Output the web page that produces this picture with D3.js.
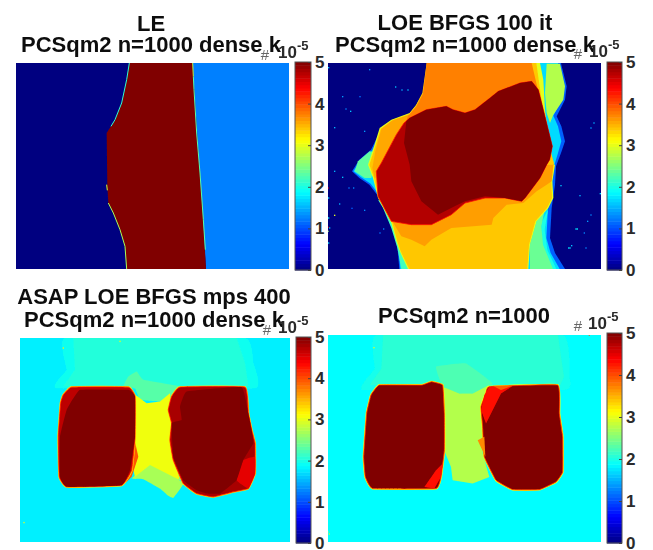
<!DOCTYPE html>
<html>
<head>
<meta charset="utf-8">
<script src="https://cdn.jsdelivr.net/npm/d3@7/dist/d3.min.js"></script>
<style>
html,body{margin:0;padding:0;background:#fff}
text{font-family:"Liberation Sans",Arial,sans-serif}
</style>
</head>
<body>
<svg id="chart" width="653" height="550"></svg>
<script>
// ---------- data: values in units of 1e-5, region outlines on each image's own grid ----------
const colorbarTicks = [0, 1, 2, 3, 4, 5];
const colorbarLevels = d3.range(64).map(i => (i + 0.5) * 5 / 64);
const titles = [
  ["LE", "PCSqm2 n=1000 dense k"],
  ["LOE BFGS 100 it", "PCSqm2 n=1000 dense k"],
  ["ASAP LOE BFGS mps 400", "PCSqm2 n=1000 dense k"],
  ["PCSqm2 n=1000"]
];
const gridSizes = [[819, 618], [819, 618], [810, 610], [819, 620]];
const backgrounds = [0, 0, 1.8, 1.875];

const regionsLE = [
  {v: 1.25, pts: [[530,0],[819,0],[819,618],[570,618]]},
  {v: 5, pts: [[340,0],[530,0],[534,80],[542,210],[552,330],[562,470],[570,618],[332,618],[327,550],[312,500],[292,450],[277,420],[274,370],[272,210],[297,170],[317,120],[332,50]]},
  {v: 2.1, open: true, pts: [[340,0],[332,50],[317,120],[297,170],[285,190]]},
  {v: 2.7, open: true, pts: [[277,420],[292,450],[312,500],[327,550],[332,618]]},
  {v: 2.3, open: true, pts: [[532,40],[534,80],[542,210],[552,330],[562,470],[568,560]]},
  {v: 2.8, open: true, pts: [[530,0],[532,40]]},
  {v: 3, open: true, pts: [[272,365],[274,382]]}
];

const regionsLOE = [
  {v: 1.1, pts: [[299,0],[296,50],[284,95],[264,135],[244,155],[194,170],[159,195],[149,220],[129,260],[94,290],[72,325],[94,345],[124,365],[159,410],[179,450],[199,500],[209,560],[214,618],[711,618],[681,570],[666,525],[671,435],[681,365],[684,310],[699,270],[711,235],[700,190],[686,160],[711,110],[716,70],[700,5],[699,0]]},
  {v: 1.7, pts: [[302,0],[300,50],[288,95],[268,138],[246,158],[196,173],[162,198],[152,223],[132,263],[97,293],[76,325],[98,342],[128,362],[163,408],[183,448],[203,498],[212,560],[217,618],[695,618],[668,570],[655,525],[660,435],[672,365],[678,310],[690,270],[700,235],[690,190],[676,158],[700,110],[706,70],[690,0]]},
  {v: 2.35, pts: [[90,295],[125,265],[145,270],[130,345],[110,345],[80,325]]},
  {v: 2.2, pts: [[150,410],[175,425],[200,495],[215,565],[245,618],[220,618],[208,555],[190,495],[165,435]]},
  {v: 2.0, pts: [[650,618],[685,618],[658,560],[650,500],[660,440],[640,480],[640,550]]},
  {v: 2.4, pts: [[606,618],[675,618],[645,545],[640,490],[650,440],[676,400],[626,475],[606,545]]},
  {v: 2.75, pts: [[656,2],[696,2],[711,70],[706,110],[676,155],[666,180],[656,150],[651,90]]},
  {v: 3, pts: [[298,0],[285,90],[265,125],[245,150],[190,170],[155,195],[135,260],[120,305],[135,345],[150,405],[190,480],[205,535],[215,565],[240,618],[601,618],[606,545],[626,475],[661,435],[676,405],[673,355],[681,305],[671,305],[661,220],[651,140],[646,50],[636,0]]},
  {v: 3.4, pts: [[296,0],[283,90],[263,128],[243,153],[192,172],[158,197],[138,262],[124,305],[138,345],[153,405],[193,480],[208,535],[218,565],[244,618],[598,618],[603,545],[622,475],[657,435],[672,405],[670,355],[678,300],[655,220],[645,140],[632,50],[625,0]]},
  {v: 3.75, pts: [[296,0],[611,0],[625,60],[640,120],[650,180],[400,250],[200,250],[160,230],[160,205],[190,176],[243,156],[265,130],[285,92]]},
  {v: 3.55, pts: [[195,172],[240,158],[215,230],[155,340],[140,345],[133,315],[142,265],[160,198]]},
  {v: 3.6, pts: [[190,470],[205,495],[220,520],[250,530],[290,550],[310,530],[370,495],[491,485],[496,465],[536,425],[586,420],[626,385],[656,365],[671,355],[676,305],[650,305],[620,360],[500,350],[300,350],[190,420]]},
  {v: 4.75, e2: 4.3, pts: [[145,325],[160,300],[205,215],[228,180],[245,165],[295,140],[355,130],[375,140],[411,150],[441,140],[486,105],[511,85],[576,60],[611,55],[631,80],[646,140],[673,250],[665,290],[656,305],[636,345],[591,405],[581,415],[531,405],[471,405],[411,420],[370,455],[310,485],[250,485],[190,475],[150,400]]},
  {v: 5, pts: [[235,175],[245,165],[295,140],[355,130],[375,140],[411,150],[441,140],[486,105],[511,85],[576,60],[611,55],[631,80],[646,140],[673,250],[665,290],[656,305],[636,345],[591,405],[581,415],[531,405],[471,400],[411,415],[380,430],[330,455],[280,415],[250,355],[245,305],[228,240]]}
];
const specksLOE = [
  [2,14,1.6],[125,20,1.4],[203,72,1.6],[222,81,1.5],[240,81,1.6],[44,101,1.4],[96,101,1.2],[54,138,1.3],[68,145,1.6],[20,194,1.5],[110,205,1.4],
  [20,325,1.5],[44,343,1.6],[63,375,1.2],[77,375,1.3],[0,375,4.4],[2,405,1.7],[35,423,1.5],[72,436,1.1],[110,442,1.3],[20,457,3],[2,465,1.8],[0,493,4.4],[0,505,2.6],[167,498,1.3],[156,510,1.2],[2,540,1.7],
  [798,180,1.5],[789,195,1.4],[699,368,1.6],[756,398,1.5],[817,392,1.7],[789,456,1.3],[779,475,1.4],[744,498,1.8],[748,498,1.8],[769,510,1.3],[731,548,1.6],[726,555,1.8],[722,555,1.7],[774,555,1.3],[5,495,1.6]
];

const regionsASAP = [
  {v: 1.95, round: true, pts: [[135,0],[675,0],[700,75],[705,150],[110,150],[140,95]]},
  {v: 2.05, pts: [[160,0],[650,0],[675,75],[685,145],[130,145],[165,95]]},
  {v: 2.3, round: true, pts: [[310,145],[325,115],[350,100],[370,125],[480,145],[450,175],[420,190],[360,185],[345,150]]},
  {v: 2.7, round: true, pts: [[335,420],[390,375],[430,390],[490,435],[460,478],[445,472],[420,450],[370,422]]},
  {v: 3.05, pts: [[340,165],[380,195],[420,190],[450,165],[455,225],[460,275],[460,355],[480,425],[430,400],[390,380],[345,415],[335,375]]},
  {v: 3.95, pts: [[345,310],[355,355],[335,415],[315,435],[330,395]]},
  {v: 4.7, e: 3.3, e2: 4.3, round: true, pts: [[155,147],[325,147],[345,175],[345,295],[335,395],[305,440],[140,445],[118,415],[115,295],[122,195],[130,170]]},
  {v: 5, round: true, pts: [[180,155],[325,155],[345,175],[345,295],[330,395],[305,440],[140,445],[120,415],[120,295],[140,215]]},
  {v: 4.8, e: 3.3, e2: 4.3, round: true, pts: [[480,147],[675,147],[685,225],[695,275],[705,315],[705,405],[685,450],[640,460],[580,475],[530,465],[490,435],[460,365],[450,305],[455,255],[445,215],[455,175]]},
  {v: 4.5, round: true, pts: [[670,365],[705,355],[705,405],[685,450],[650,425]]},
  {v: 5, round: true, pts: [[500,160],[665,147],[685,225],[695,275],[700,315],[670,365],[650,425],[600,465],[560,465],[530,455],[490,425],[460,355],[455,255],[485,245],[480,205]]}
];
const specksASAP = [[130,30,3.2],[300,10,3],[12,552,3]];

const regionsPCS = [
  {v: 1.97, round: true, pts: [[145,0],[705,0],[725,125],[710,165],[105,165],[140,100]]},
  {v: 2.08, pts: [[165,0],[690,0],[708,125],[695,155],[125,150],[160,100]]},
  {v: 2.25, round: true, pts: [[324,95],[414,85],[494,145],[434,175],[394,175],[344,155]]},
  {v: 2.75, pts: [[344,155],[394,175],[434,175],[484,150],[464,235],[464,355],[484,425],[434,445],[374,435],[369,395],[344,335]]},
  {v: 5, e: 3.1, e2: 4.2, round: true, pts: [[154,150],[280,150],[310,140],[344,150],[349,235],[349,345],[339,425],[324,460],[134,460],[112,425],[107,365],[116,235],[129,180]]},
  {v: 4.3, pts: [[344,385],[339,425],[319,460],[289,455],[324,405]]},
  {v: 5, e: 3.1, e2: 4.2, round: true, pts: [[484,155],[689,150],[694,235],[704,305],[704,410],[684,440],[634,463],[554,463],[504,435],[469,365],[464,275],[459,215],[474,175]]},
  {v: 4.3, pts: [[484,155],[554,153],[519,175],[474,265],[459,225],[469,180]]},
  {v: 3.9, pts: [[494,152],[554,152],[519,165]]},
  {v: 3.7, pts: [[449,315],[469,305],[472,365]]}
];
const specksPCS = [[138,38,3],[0,590,2.6],[4,596,2.8],[784,0,4]];

const panelRegions = [regionsLE, regionsLOE, regionsASAP, regionsPCS];
const panelSpecks = [[], specksLOE, specksASAP, specksPCS];

// ---------- layout and styling ----------
const imageBoxes = [
  {x0: 16, x1: 289, y0: 63, y1: 269},
  {x0: 328, x1: 601, y0: 63, y1: 269},
  {x0: 20, x1: 290, y0: 338, y1: 542},
  {x0: 328, x1: 601, y0: 335, y1: 542}
];
const barBoxes = [
  {x0: 295, x1: 311, y0: 62, y1: 270},
  {x0: 607, x1: 622, y0: 62, y1: 270},
  {x0: 296, x1: 311, y0: 337, y1: 543},
  {x0: 607, x1: 622, y0: 333, y1: 543}
];
const titleAnchors = [
  {cx: 151, ys: [31, 52]},
  {cx: 465, ys: [30, 52]},
  {cx: 154, ys: [304, 327]},
  {cx: 464, ys: [323]}
];
const exponentAnchors = [
  {hash: 265, ten: 278, y: 58},
  {hash: 578, ten: 589, y: 57},
  {hash: 267, ten: 278, y: 333},
  {hash: 578, ten: 588, y: 329}
];

const clamp01 = d3.scaleLinear().domain([0, 1]).range([0, 255]).clamp(true);
const toUnit = d3.scaleLinear().domain([0, 5]).range([0, 1]).clamp(true);
function jet(v) {
  const t = toUnit(v);
  const r = clamp01(Math.min(4 * t - 1.5, -4 * t + 4.5));
  const g = clamp01(Math.min(4 * t - 0.5, -4 * t + 3.5));
  const b = clamp01(Math.min(4 * t + 0.5, -4 * t + 2.5));
  return d3.rgb(r, g, b).formatHex();
}

const svg = d3.select("#chart");
const defs = svg.append("defs");
defs.append("filter").attr("id", "soft").attr("x", "-2%").attr("y", "-2%").attr("width", "104%").attr("height", "104%")
  .append("feGaussianBlur").attr("stdDeviation", 0.6);
defs.append("filter").attr("id", "softText")
  .append("feGaussianBlur").attr("stdDeviation", 0.25);

imageBoxes.forEach((box, i) => {
  const [gw, gh] = gridSizes[i];
  const x = d3.scaleLinear().domain([0, gw]).range([box.x0, box.x1]);
  const y = d3.scaleLinear().domain([0, gh]).range([box.y0, box.y1]);
  const clipId = "clip" + i;
  defs.append("clipPath").attr("id", clipId).append("rect")
    .attr("x", box.x0).attr("y", box.y0).attr("width", box.x1 - box.x0).attr("height", box.y1 - box.y0);

  const outer = svg.append("g").attr("clip-path", `url(#${clipId})`);
  const g = outer.append("g").attr("filter", "url(#soft)");
  g.append("rect")
    .attr("x", x(0)).attr("y", y(0)).attr("width", x(gw) - x(0)).attr("height", y(gh) - y(0))
    .attr("fill", jet(backgrounds[i]));

  const straight = d3.line().x(d => x(d[0])).y(d => y(d[1]));
  const rounded = d3.line().x(d => x(d[0])).y(d => y(d[1])).curve(d3.curveCardinalClosed.tension(0.75));
  const outline = d => d.round ? rounded(d.pts) : straight(d.pts) + (d.open ? "" : "Z");

  g.selectAll("g.region").data(panelRegions[i]).join("g").attr("class", "region")
    .each(function(d) {
      const node = d3.select(this);
      if (d.e !== undefined) {
        node.append("path").attr("d", outline(d)).attr("fill", "none")
          .attr("stroke", jet(d.e)).attr("stroke-width", 2.1).attr("stroke-linejoin", "round");
      }
      node.append("path").attr("d", outline(d))
        .attr("fill", d.open ? "none" : jet(d.v))
        .attr("stroke", d.open ? jet(d.v) : (d.e2 !== undefined ? jet(d.e2) : "none"))
        .attr("stroke-width", d.open ? 1 : 0.8)
        .attr("stroke-linejoin", "round");
    });

  g.selectAll("rect.speck").data(panelSpecks[i]).join("rect")
    .attr("class", "speck")
    .attr("x", d => x(d[0] - 2)).attr("y", d => y(d[1] - 2))
    .attr("width", d => x(d[0] + 2) - x(d[0] - 2)).attr("height", d => y(d[1] + 2) - y(d[1] - 2))
    .attr("fill", d => jet(d[2]));

  // colour bar
  const bar = barBoxes[i];
  const yBar = d3.scaleLinear().domain([0, 5]).range([bar.y1, bar.y0]);
  const step = 5 / colorbarLevels.length;
  const gb = svg.append("g");
  gb.selectAll("rect").data(colorbarLevels).join("rect")
    .attr("x", bar.x0).attr("width", bar.x1 - bar.x0)
    .attr("y", d => yBar(d + step / 2))
    .attr("height", d => yBar(d - step / 2) - yBar(d + step / 2) + 0.5)
    .attr("fill", d => jet(d));
  gb.append("rect").attr("x", bar.x0).attr("y", bar.y0)
    .attr("width", bar.x1 - bar.x0).attr("height", bar.y1 - bar.y0)
    .attr("fill", "none").attr("stroke", "#555").attr("stroke-width", 1);

  const axis = d3.axisRight(yBar).tickValues(colorbarTicks).tickSize(-3).tickPadding(4).tickFormat(d3.format("d"));
  const ga = svg.append("g").attr("transform", `translate(${bar.x1},0)`).call(axis);
  ga.select(".domain").remove();
  ga.selectAll("line").attr("stroke", "#444");
  ga.selectAll("text").attr("font-size", 17).attr("font-weight", "bold").attr("fill", "#2b2b2b")
    .style("font-family", '"Liberation Sans",Arial,sans-serif');

  // titles
  const tg = svg.append("g").attr("filter", "url(#softText)");
  tg.selectAll("text").data(titles[i]).join("text")
    .attr("x", titleAnchors[i].cx)
    .attr("y", (d, k) => titleAnchors[i].ys[k])
    .attr("text-anchor", "middle")
    .attr("font-size", 22).attr("font-weight", "bold").attr("fill", "#111")
    .text(d => d);

  // exponent label
  const ex = exponentAnchors[i];
  const eg = svg.append("g").attr("filter", "url(#softText)");
  eg.append("text").attr("x", ex.hash).attr("y", ex.y + 2).attr("text-anchor", "middle")
    .attr("font-size", 15).attr("fill", "#666").text("#");
  eg.append("text").attr("x", ex.ten).attr("y", ex.y).attr("font-size", 17).attr("font-weight", "bold")
    .attr("fill", "#2b2b2b").text("10");
  eg.append("text").attr("x", ex.ten + 19).attr("y", ex.y - 8).attr("font-size", 13).attr("font-weight", "bold")
    .attr("fill", "#2b2b2b").text("-5");
});
</script>
</body>
</html>
